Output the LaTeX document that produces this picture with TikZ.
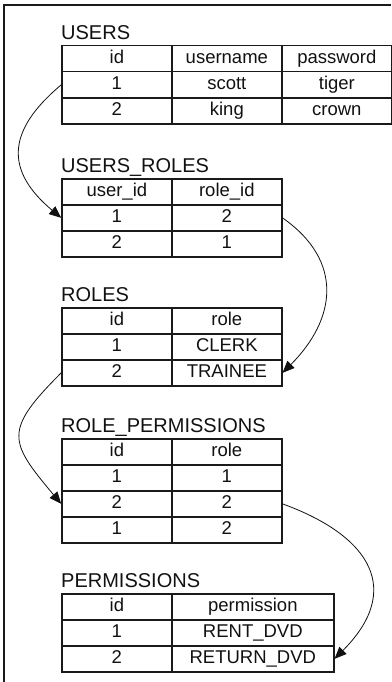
\documentclass[tikz,border=0pt]{standalone}
\usepackage{fontspec}
\setmainfont{Liberation Sans}
\usetikzlibrary{arrows.meta,matrix}

\definecolor{ink}{HTML}{111111}
\definecolor{line}{HTML}{1A1A1A}

\begin{document}
\begin{tikzpicture}[
  x=1pt, y=1pt,
  text=ink,
  >={Triangle[length=12pt,width=10pt]},
  cell/.style={
    draw=line,
    line width=1.3pt,
    minimum width=110pt,
    minimum height=26pt,
    text height=13pt,
    text depth=3.5pt,
    inner sep=0pt,
    font=\fontsize{18.5}{21}\selectfont
  },
  table/.style={
    matrix of nodes,
    anchor=north west,
    inner sep=0pt,
    column sep=-1.3pt,
    row sep=-1.3pt,
    nodes={cell}
  },
  title/.style={
    anchor=base west,
    inner sep=0pt,
    yshift=5.5pt,
    font=\fontsize{20}{23}\selectfont
  },
  link/.style={
    ->,
    draw=ink,
    line width=0.8pt
  }
]
\useasboundingbox (0,0) rectangle (391,-682);

% Frame of the figure
\draw[draw=line,line width=1.3pt] (4,-682) -- (4,-5) -- (391,-5);

% Tables
\matrix[table] (users) at (61,-45) {
  id & username & password \\
  1  & scott    & tiger    \\
  2  & king     & crown    \\
};
\node[title] (userst) at (users.north west) {USERS};

\matrix[table] (uroles) at (61,-178) {
  user\_id & role\_id \\
  1        & 2        \\
  2        & 1        \\
};
\node[title] (urolest) at (uroles.north west) {USERS\_ROLES};

\matrix[table] (roles) at (61,-307) {
  id & role    \\
  1  & CLERK   \\
  2  & TRAINEE \\
};
\node[title] (rolest) at (roles.north west) {ROLES};

\matrix[table] (rperms) at (61,-438) {
  id & role \\
  1  & 1    \\
  2  & 2    \\
  1  & 2    \\
};
\node[title] (rpermst) at (rperms.north west) {ROLE\_PERMISSIONS};

\matrix[table,column 2/.style={nodes={minimum width=162pt}}] (perms) at (61,-593) {
  id & permission  \\
  1  & RENT\_DVD   \\
  2  & RETURN\_DVD \\
};
\node[title] (permst) at (perms.north west) {PERMISSIONS};

% Links between the rows
\draw[link] (users-2-1.west) to[out=220,in=140,looseness=1.4] (uroles-2-1.west);
\draw[link] (uroles-2-2.east) to[out=-35,in=45,looseness=1.25] (roles-3-2.east);
\draw[link] (roles-3-1.west) to[out=225,in=130,looseness=1.6] (rperms-3-1.west);
\draw[link] (rperms-3-2.east) to[out=-20,in=45,looseness=1.5] (perms-3-2.east);

\end{tikzpicture}
\end{document}
